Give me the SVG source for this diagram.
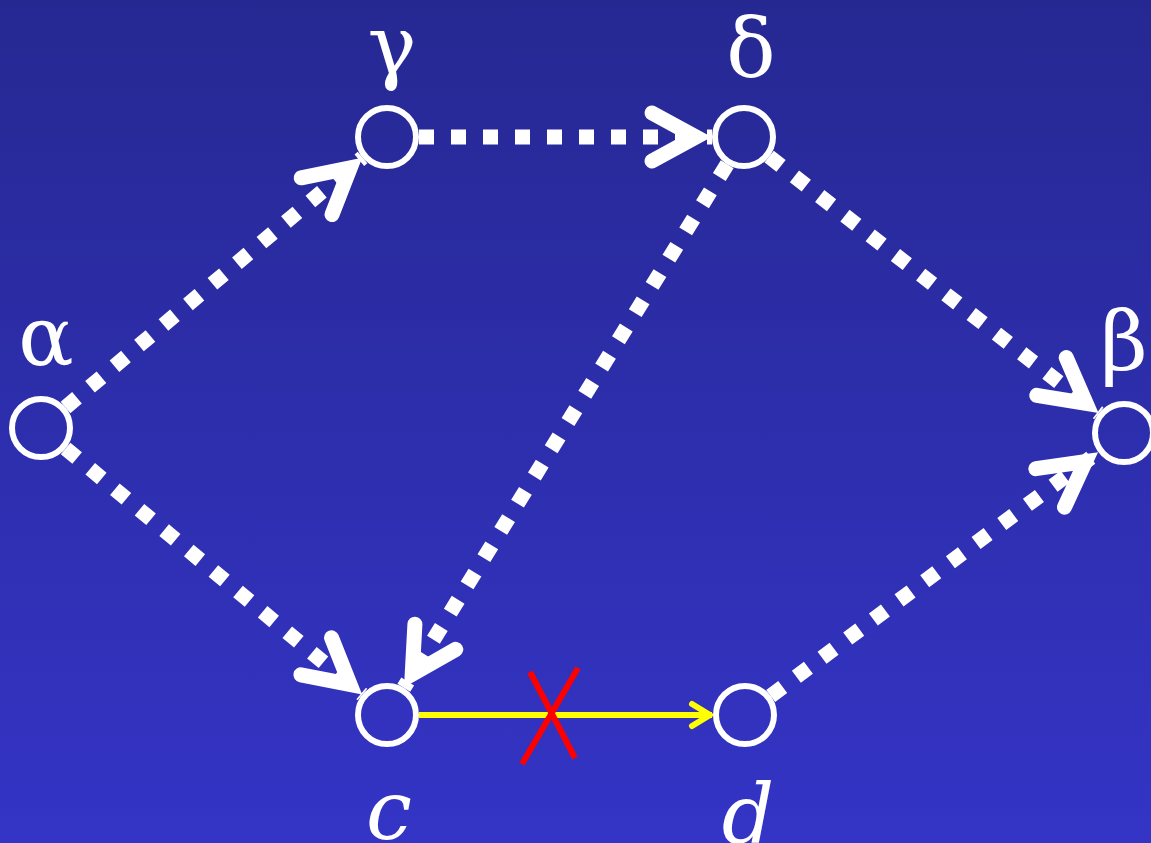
<svg xmlns="http://www.w3.org/2000/svg" width="1151" height="843" viewBox="0 0 1151 843">
  <defs>
    <linearGradient id="bg" x1="0" y1="0" x2="0" y2="1">
      <stop offset="0" stop-color="#262892"/>
      <stop offset="1" stop-color="#3434c6"/>
    </linearGradient>
    <marker id="bigArrow" markerUnits="userSpaceOnUse" markerWidth="100" markerHeight="100" refX="0" refY="0" orient="auto" overflow="visible" viewBox="-80 -50 100 100">
      <path d="M -60 -24 L -16 0 L -60 24" fill="none" stroke="#ffffff" stroke-width="15" stroke-linecap="round" stroke-linejoin="miter" stroke-dasharray="none"/>
    </marker>
    <marker id="smallArrow" markerUnits="userSpaceOnUse" markerWidth="40" markerHeight="40" refX="0" refY="0" orient="auto" overflow="visible" viewBox="-30 -20 40 40">
      <path d="M -20 -11 L -2 0 L -20 11" fill="none" stroke="#ffff00" stroke-width="6" stroke-linecap="round" stroke-linejoin="round"/>
    </marker>
  </defs>
  <style>
    .node { fill: none; stroke: #ffffff; stroke-width: 6; }
    .dotted { fill: none; stroke: #ffffff; stroke-width: 15; stroke-dasharray: 15 17; stroke-linecap: butt; marker-end: url(#bigArrow); }
    .lbl { font-family: "DejaVu Serif", serif; font-size: 82px; fill: #ffffff; text-anchor: middle; }
    .it { font-style: italic; }
  </style>
  <rect x="0" y="0" width="1151" height="843" fill="url(#bg)"/>

  <g id="connectors">
    <path class="dotted" d="M 65.5 407.4 L 362.5 157.6"/>
    <path class="dotted" d="M 419 137 L 712 137"/>
    <path class="dotted" d="M 769.2 156.7 L 1098.8 413.3"/>
    <path class="dotted" d="M 770.7 695.9 L 1098.3 452.1"/>
    <path class="dotted" d="M 65.6 448.4 L 362.4 694.6"/>
    <path class="dotted" d="M 727.2 164.2 L 403.8 687.8"/>
    <path d="M 419 715 L 712 715" fill="none" stroke="#ffff00" stroke-width="6" marker-end="url(#smallArrow)"/>
    <g id="cross" stroke="#ff0000" stroke-width="6" fill="none">
      <line x1="530" y1="672" x2="575" y2="758"/>
      <line x1="578" y1="668" x2="522" y2="764"/>
    </g>
  </g>

  <g id="node-alpha">
    <circle class="node" cx="41" cy="428" r="29"/>
    <text class="lbl" x="46" y="365">α</text>
  </g>
  <g id="node-gamma">
    <circle class="node" cx="387" cy="137" r="29"/>
    <text class="lbl" x="392" y="74">γ</text>
  </g>
  <g id="node-delta">
    <circle class="node" cx="744" cy="137" r="29"/>
    <text class="lbl" x="751" y="77">δ</text>
  </g>
  <g id="node-beta">
    <circle class="node" cx="1124" cy="433" r="29"/>
    <text class="lbl" x="1124" y="370">β</text>
  </g>
  <g id="node-c">
    <circle class="node" cx="387" cy="715" r="29"/>
    <text class="lbl it" x="389" y="839">c</text>
  </g>
  <g id="node-d">
    <circle class="node" cx="745" cy="715" r="29"/>
    <text class="lbl it" x="748" y="843">d</text>
  </g>
</svg>
